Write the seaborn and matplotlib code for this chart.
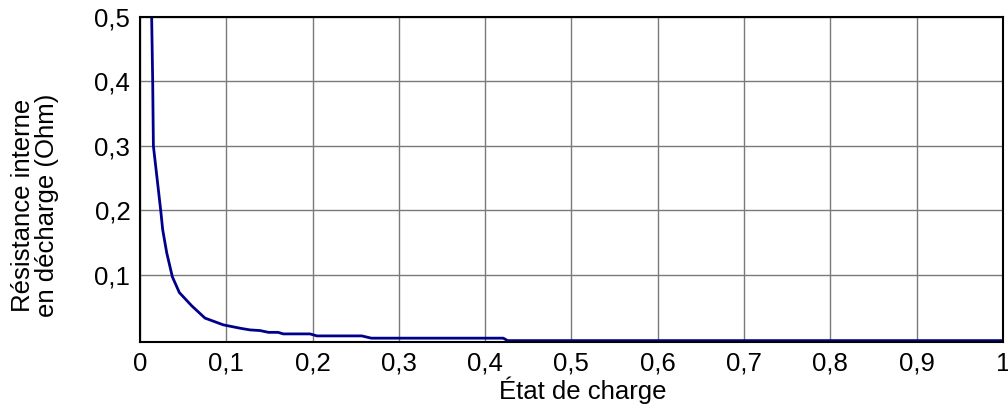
# resistance interne vs etat de charge

import matplotlib
matplotlib.use("Agg")
import matplotlib.pyplot as plt
import pandas as pd
import seaborn as sns

soc = [0.0135, 0.0147, 0.0155, 0.024, 0.0263, 0.031, 0.0375, 0.0456, 0.060,
       0.0753, 0.0966, 0.116, 0.1275, 0.139, 0.149, 0.160, 0.166, 0.197,
       0.205, 0.257, 0.268, 0.421, 0.426, 1.0]
resistance = [0.5, 0.4, 0.3, 0.2, 0.170, 0.134, 0.097, 0.0726, 0.052,
              0.033, 0.0225, 0.0173, 0.0147, 0.0137, 0.0109, 0.0109, 0.0085,
              0.0085, 0.0054, 0.0054, 0.0019, 0.0019, -0.0019, -0.0019]

x_ticks = [0, 0.1, 0.2, 0.3, 0.4, 0.5, 0.6, 0.7, 0.8, 0.9, 1.0]
x_labels = ["0", "0,1", "0,2", "0,3", "0,4", "0,5", "0,6", "0,7", "0,8", "0,9", "1"]
y_ticks = [0.1, 0.2, 0.3, 0.4, 0.5]
y_labels = ["0,1", "0,2", "0,3", "0,4", "0,5"]

sns.set_theme(style="whitegrid")
plt.rcParams["font.family"] = ["Liberation Sans", "DejaVu Sans"]


def main():
    df = pd.DataFrame({"soc": soc, "r": resistance})

    fig = plt.figure(figsize=(10.08, 4.15), dpi=100)
    ax = fig.add_axes([0.1389, 0.176, 0.856, 0.783])
    sns.lineplot(data=df, x="soc", y="r", ax=ax, color="#00008b", linewidth=2.0,
                 sort=False, estimator=None)

    ax.set_xlim(0, 1)
    ax.set_ylim(-0.004, 0.5)
    ax.set_xticks(x_ticks)
    ax.set_xticklabels(x_labels)
    ax.set_yticks(y_ticks)
    ax.set_yticklabels(y_labels)

    ax.grid(True, color="#7a7a7a", linewidth=1.0)
    for s in ax.spines.values():
        s.set_color("black")
        s.set_linewidth(1.5)
    ax.tick_params(axis="both", direction="in", length=5, width=1, colors="black",
                   labelsize=18.5, pad=7)

    ax.set_xlabel("État de charge", fontsize=18.5, color="black")
    ax.xaxis.set_label_coords(0.513, -0.148)
    ax.xaxis.label.set_va("center")
    ax.set_ylabel("Résistance interne\nen décharge (Ohm)", fontsize=18.5,
                  linespacing=1.0, color="black")
    ax.yaxis.set_label_coords(-0.122, 0.42)
    ax.yaxis.label.set_va("center")

    fig.savefig("out.png", dpi=100)
    plt.close(fig)


if __name__ == "__main__":
    main()
